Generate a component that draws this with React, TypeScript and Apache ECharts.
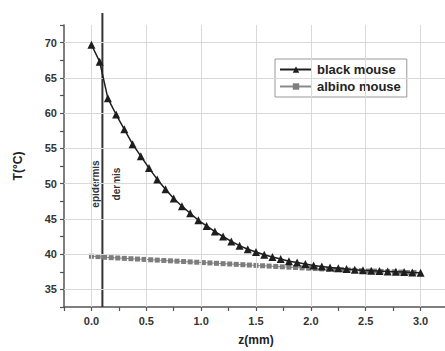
import React, { useEffect, useRef } from "react";
import * as echarts from "echarts";

const blackZ = [0, 0.075, 0.15, 0.225, 0.3, 0.375, 0.45, 0.525, 0.6, 0.675, 0.75, 0.825, 0.9, 0.975, 1.05, 1.125, 1.2, 1.275, 1.35, 1.425, 1.5, 1.575, 1.65, 1.725, 1.8, 1.875, 1.95, 2.025, 2.1, 2.175, 2.25, 2.325, 2.4, 2.475, 2.55, 2.625, 2.7, 2.775, 2.85, 2.925, 3.0];
const blackT = [69.7, 67.3, 62.1, 59.8, 57.7, 55.6, 53.9, 52.2, 50.6, 49.2, 47.9, 46.8, 45.8, 44.8, 44.0, 43.2, 42.5, 41.8, 41.2, 40.7, 40.3, 39.9, 39.6, 39.3, 39.0, 38.8, 38.6, 38.4, 38.25, 38.1, 38.0, 37.9, 37.8, 37.7, 37.65, 37.6, 37.55, 37.5, 37.45, 37.4, 37.35];

const albinoZ = [0, 0.06, 0.12, 0.18, 0.24, 0.3, 0.36, 0.42, 0.48, 0.54, 0.6, 0.66, 0.72, 0.78, 0.84, 0.9, 0.96, 1.02, 1.08, 1.14, 1.2, 1.26, 1.32, 1.38, 1.44, 1.5, 1.56, 1.62, 1.68, 1.74, 1.8, 1.86, 1.92, 1.98, 2.04, 2.1, 2.16, 2.22, 2.28, 2.34, 2.4, 2.46, 2.52, 2.58, 2.64, 2.7, 2.76, 2.82, 2.88, 2.94];
const albinoT = [39.7, 39.65, 39.55, 39.5, 39.45, 39.4, 39.35, 39.3, 39.25, 39.2, 39.15, 39.1, 39.05, 39.0, 38.95, 38.9, 38.85, 38.8, 38.75, 38.7, 38.65, 38.6, 38.55, 38.5, 38.45, 38.4, 38.35, 38.3, 38.25, 38.2, 38.15, 38.1, 38.05, 38.0, 37.95, 37.9, 37.85, 37.8, 37.8, 37.75, 37.7, 37.65, 37.6, 37.6, 37.55, 37.5, 37.5, 37.45, 37.4, 37.4];

const boundaryZ = 0.1;
const boundaryT = [32.5, 74.2];

const yGridValues = [35, 40, 45, 50, 55, 60, 65, 70];
const xGridValues = [0, 0.5, 1.0, 1.5, 2.0, 2.5, 3.0];

const seriesNames = ["black mouse", "albino mouse"];
const layerLabels = ["epidermis", "dermis"];

const FONT = "Liberation Sans, Arial, sans-serif";

export default function App() {
  const ref = useRef<HTMLDivElement>(null);
  useEffect(() => {
    if (!ref.current) return;
    const chart = echarts.init(ref.current, undefined, { renderer: "svg" });
    const option: any = {
      animation: false,
      backgroundColor: "#ffffff",
      grid: { left: 64, right: 12, top: 25, bottom: 44 },
      legend: {
        data: seriesNames,
        orient: "vertical",
        left: 275,
        top: 59,
        borderColor: "#999",
        borderWidth: 1,
        padding: [4, 6, 4, 4],
        itemGap: 4,
        itemWidth: 32,
        itemHeight: 8,
        textStyle: { fontFamily: FONT, fontWeight: "bold", fontSize: 13, color: "#222" },
      },
      xAxis: {
        type: "value",
        min: -0.25,
        max: 3.25,
        interval: 0.25,
        name: "z(mm)",
        nameLocation: "middle",
        nameGap: 27,
        nameTextStyle: { fontFamily: FONT, fontWeight: "bold", fontSize: 12, color: "#222" },
        axisLine: { show: true, onZero: false, lineStyle: { color: "#555", width: 1.5 } },
        axisTick: { show: true, inside: false, length: 4, lineStyle: { color: "#555", width: 1.2 } },
        axisLabel: {
          fontFamily: FONT,
          fontWeight: "bold",
          fontSize: 11,
          color: "#333",
          margin: 8,
          formatter: (v: number) => (Math.abs(v * 2 - Math.round(v * 2)) < 1e-6 && v >= 0 && v <= 3 ? v.toFixed(1) : ""),
        },
        splitLine: { show: false },
      },
      yAxis: {
        type: "value",
        min: 32.5,
        max: 72.5,
        interval: 2.5,
        name: "T(°C)",
        nameLocation: "middle",
        nameGap: 40,
        nameTextStyle: { fontFamily: FONT, fontWeight: "bold", fontSize: 12, color: "#222" },
        axisLine: { show: true, onZero: false, lineStyle: { color: "#555", width: 1.5 } },
        axisTick: { show: true, inside: false, length: 4, lineStyle: { color: "#555", width: 1.2 } },
        axisLabel: {
          fontFamily: FONT,
          fontWeight: "bold",
          fontSize: 11,
          color: "#333",
          margin: 7,
          formatter: (v: number) => (Math.abs(v % 5) < 1e-6 ? String(v) : ""),
        },
        splitLine: { show: false },
      },
      series: [
        {
          name: "grid",
          type: "line",
          data: [],
          silent: true,
          z: 1,
          markLine: {
            silent: true,
            symbol: "none",
            label: { show: false },
            lineStyle: { color: "#d9d9d9", width: 1, type: "solid" },
            data: [
              ...yGridValues.map((v) => ({ yAxis: v })),
              ...xGridValues.map((v) => ({ xAxis: v })),
            ],
          },
        },
        {
          name: "boundary",
          type: "line",
          data: boundaryT.map((t) => [boundaryZ, t]),
          clip: false,
          symbol: "none",
          silent: true,
          z: 3,
          lineStyle: { color: "#333", width: 2 },
        },
        {
          name: seriesNames[1],
          type: "line",
          data: albinoZ.map((z, i) => [z, albinoT[i]]),
          symbol: "rect",
          symbolSize: 5,
          z: 4,
          itemStyle: { color: "#7d7d7d" },
          lineStyle: { color: "#8a8a8a", width: 1 },
        },
        {
          name: seriesNames[0],
          type: "line",
          data: blackZ.map((z, i) => [z, blackT[i]]),
          symbol: "triangle",
          symbolSize: 8,
          z: 5,
          itemStyle: { color: "#1e1e1e" },
          lineStyle: { color: "#1e1e1e", width: 1.5 },
        },
      ],
      graphic: [
        {
          type: "text",
          x: 95,
          y: 184,
          rotation: Math.PI / 2,
          style: {
            text: layerLabels[0],
            fontFamily: FONT,
            fontWeight: "bold",
            fontSize: 10,
            fill: "#333",
            align: "center",
            verticalAlign: "middle",
          },
        },
        {
          type: "text",
          x: 116,
          y: 184,
          rotation: Math.PI / 2,
          style: {
            text: layerLabels[1],
            fontFamily: FONT,
            fontWeight: "bold",
            fontSize: 10,
            fill: "#333",
            align: "center",
            verticalAlign: "middle",
          },
        },
      ],
    };
    chart.setOption(option);
    return () => chart.dispose();
  }, []);
  return (
    <div style={{ position: "absolute", left: 0, top: 0, width: 445, height: 351, overflow: "hidden", background: "#fff" }}>
      <div ref={ref} style={{ width: 460, height: 351 }} />
    </div>
  );
}
